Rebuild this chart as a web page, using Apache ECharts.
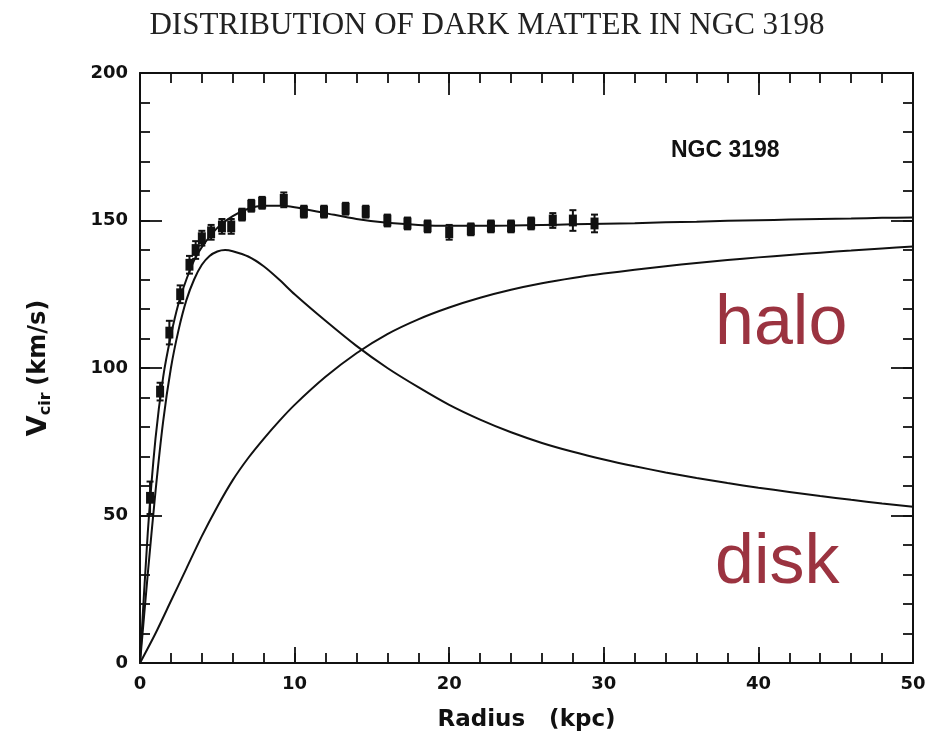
<!DOCTYPE html>
<html>
<head>
<meta charset="utf-8">
<script src="https://cdn.jsdelivr.net/npm/echarts@6/dist/echarts.min.js"></script>
<style>html,body{margin:0;padding:0;background:#fff}#c{width:941px;height:737px}</style>
</head>
<body>
<div id="c"></div>
<script>
// Observed rotation curve points (radius kpc, velocity km/s, error km/s)
const obsRadius = [0.65, 1.3, 1.9, 2.6, 3.2, 3.6, 4.0, 4.6, 5.3, 5.9, 6.6, 7.2, 7.9, 9.3, 10.6, 11.9, 13.3, 14.6, 16.0, 17.3, 18.6, 20.0, 21.4, 22.7, 24.0, 25.3, 26.7, 28.0, 29.4];
const obsVel    = [56, 92, 112, 125, 135, 140, 144, 146, 148, 148, 152, 155, 156, 157, 153, 153, 154, 153, 150, 149, 148, 146, 147, 148, 148, 149, 150, 150, 149];
const obsErr    = [5.5, 3, 4, 3, 3, 3, 2.5, 2.5, 2.5, 2.5, 2, 2, 2, 2.5, 2, 2, 2, 2, 2, 2, 2, 2.5, 2, 2, 2, 2, 2.5, 3.5, 3];

// Fitted total curve
const totR = [0, 0.5, 1, 1.5, 2, 2.5, 3, 3.5, 4, 5, 6, 7, 8, 9, 10, 12, 14, 16, 18, 20, 22, 24, 26, 28, 30, 32, 34, 36, 38, 40, 42, 44, 46, 48, 50];
const totV = [0, 44, 76, 97, 111, 122, 130, 136.5, 141, 147.5, 151.5, 154, 155, 155, 154.5, 152.5, 150.5, 149.2, 148.5, 148.2, 148.2, 148.3, 148.5, 148.7, 148.9, 149.1, 149.4, 149.6, 149.9, 150.1, 150.3, 150.5, 150.7, 150.9, 151];

// Disk component
const diskR = [0, 0.5, 1, 1.5, 2, 2.5, 3, 3.5, 4, 4.5, 5, 5.5, 6, 7, 8, 9, 10, 12, 14, 16, 18, 20, 22, 24, 26, 28, 30, 32, 34, 36, 38, 40, 42, 44, 46, 48, 50];
const diskV = [0, 30, 58, 82, 100, 113, 123, 130, 135, 138, 139.5, 140, 139.6, 137.8, 134.5, 130, 125, 116, 107.5, 100, 93.5, 87.5, 82.5, 78.2, 74.6, 71.6, 69, 66.7, 64.6, 62.7, 61, 59.4, 58, 56.6, 55.3, 54.1, 53];

// Halo component
const haloR = [0, 1, 2, 3, 4, 5, 6, 7, 8, 9, 10, 12, 14, 16, 18, 20, 22, 24, 26, 28, 30, 32, 34, 36, 38, 40, 42, 44, 46, 48, 50];
const haloV = [0, 10, 21, 32, 43, 53, 62, 69.5, 76, 82, 87.5, 97, 105, 111.5, 116.5, 120.5, 123.8, 126.5, 128.7, 130.5, 132, 133.3, 134.5, 135.6, 136.6, 137.5, 138.3, 139.1, 139.8, 140.5, 141.2];

const xTicks = [0, 10, 20, 30, 40, 50];
const yTicks = [0, 50, 100, 150, 200];

const pairs = (a, b) => a.map((x, i) => [x, b[i]]);
const obsData = obsRadius.map((x, i) => [x, obsVel[i], obsErr[i]]);

const labelFont = {fontFamily: 'DejaVu Sans', fontWeight: 'bold', fontSize: 18, color: '#111'};
const tickStyle = {color: '#111', width: 1.8};

function xAx(pos, showLabel, interval, tickLen, showLine) {
  return {
    type: 'value', position: pos, min: 0, max: 50, interval: interval,
    axisLine: {show: showLine, onZero: false, lineStyle: {color: '#111', width: 2}},
    axisTick: {show: true, inside: true, length: tickLen, lineStyle: tickStyle},
    splitLine: {show: false},
    axisLabel: Object.assign({show: showLabel, margin: 12}, labelFont),
    name: showLabel ? 'Radius   (kpc)' : '',
    nameLocation: 'middle', nameGap: 46,
    nameTextStyle: {fontFamily: 'DejaVu Sans', fontWeight: 'bold', fontSize: 23, color: '#111'}
  };
}
function yAx(pos, showLabel, interval, tickLen, showLine) {
  return {
    type: 'value', position: pos, min: 0, max: 200, interval: interval,
    axisLine: {show: showLine, onZero: false, lineStyle: {color: '#111', width: 2}},
    axisTick: {show: true, inside: true, length: tickLen, lineStyle: tickStyle},
    splitLine: {show: false},
    axisLabel: Object.assign({show: showLabel, margin: 12}, labelFont),
    name: showLabel ? '{v|V}{s|cir}  {u|(km/s)}' : '',
    nameLocation: 'middle', nameGap: 86, nameRotate: 90,
    nameTextStyle: {
      rich: {
        v: {fontFamily: 'DejaVu Sans', fontWeight: 'bold', fontSize: 27, color: '#111'},
        s: {fontFamily: 'DejaVu Sans', fontWeight: 'bold', fontSize: 16, color: '#111', padding: [14, 0, 0, 0]},
        u: {fontFamily: 'DejaVu Sans', fontWeight: 'bold', fontSize: 24, color: '#111'}
      }
    }
  };
}

const chart = echarts.init(document.getElementById('c'), null, {renderer: 'canvas'});
chart.setOption({
  backgroundColor: '#fff',
  animation: false,
  title: {
    text: 'DISTRIBUTION OF DARK MATTER IN NGC 3198',
    left: 482, top: 5, textAlign: 'center',
    textStyle: {fontFamily: 'Liberation Serif', fontWeight: 'normal', fontSize: 31, color: '#222'}
  },
  grid: {left: 140, right: 28, top: 73, bottom: 70},
  xAxis: [
    xAx('bottom', true, 10, 16, true),
    xAx('top', false, 10, 22, true),
    xAx('bottom', false, 2, 10, false),
    xAx('top', false, 2, 10, false)
  ],
  yAxis: [
    yAx('left', true, 50, 22, true),
    yAx('right', false, 50, 22, true),
    yAx('left', false, 10, 10, false),
    yAx('right', false, 10, 10, false)
  ],
  graphic: [
    {type: 'text', left: 671, top: 139, style: {text: 'NGC 3198', fontFamily: 'Liberation Sans', fontWeight: 'bold', fontSize: 23, fill: '#111'}},
    {type: 'text', left: 715, top: 290, style: {text: 'halo', fontFamily: 'Liberation Sans', fontSize: 70, fill: '#9b3340'}},
    {type: 'text', left: 715, top: 529, style: {text: 'disk', fontFamily: 'Liberation Sans', fontSize: 70, fill: '#9b3340'}}
  ],
  series: [
    {type: 'line', data: pairs(totR, totV), smooth: 0.25, symbol: 'none', lineStyle: {color: '#111', width: 2}},
    {type: 'line', data: pairs(diskR, diskV), smooth: 0.25, symbol: 'none', lineStyle: {color: '#111', width: 2}},
    {type: 'line', data: pairs(haloR, haloV), smooth: 0.25, symbol: 'none', lineStyle: {color: '#111', width: 2}},
    {
      type: 'custom', data: obsData, encode: {x: 0, y: 1}, z: 5,
      renderItem: function (params, api) {
        const x = api.value(0), v = api.value(1), e = api.value(2);
        const top = api.coord([x, v + e]);
        const bot = api.coord([x, v - e]);
        const bTop = api.coord([x, v + Math.min(e, 2)]);
        const bBot = api.coord([x, v - Math.min(e, 2)]);
        const w = 8;
        return {
          type: 'group',
          children: [
            {type: 'line', shape: {x1: top[0], y1: top[1], x2: bot[0], y2: bot[1]}, style: {stroke: '#111', lineWidth: 2}},
            {type: 'line', shape: {x1: top[0] - 3.5, y1: top[1], x2: top[0] + 3.5, y2: top[1]}, style: {stroke: '#111', lineWidth: 2}},
            {type: 'line', shape: {x1: bot[0] - 3.5, y1: bot[1], x2: bot[0] + 3.5, y2: bot[1]}, style: {stroke: '#111', lineWidth: 2}},
            {type: 'rect', shape: {x: bTop[0] - w / 2, y: bTop[1], width: w, height: bBot[1] - bTop[1]}, style: {fill: '#111'}}
          ]
        };
      }
    }
  ]
});
</script>
</body>
</html>
